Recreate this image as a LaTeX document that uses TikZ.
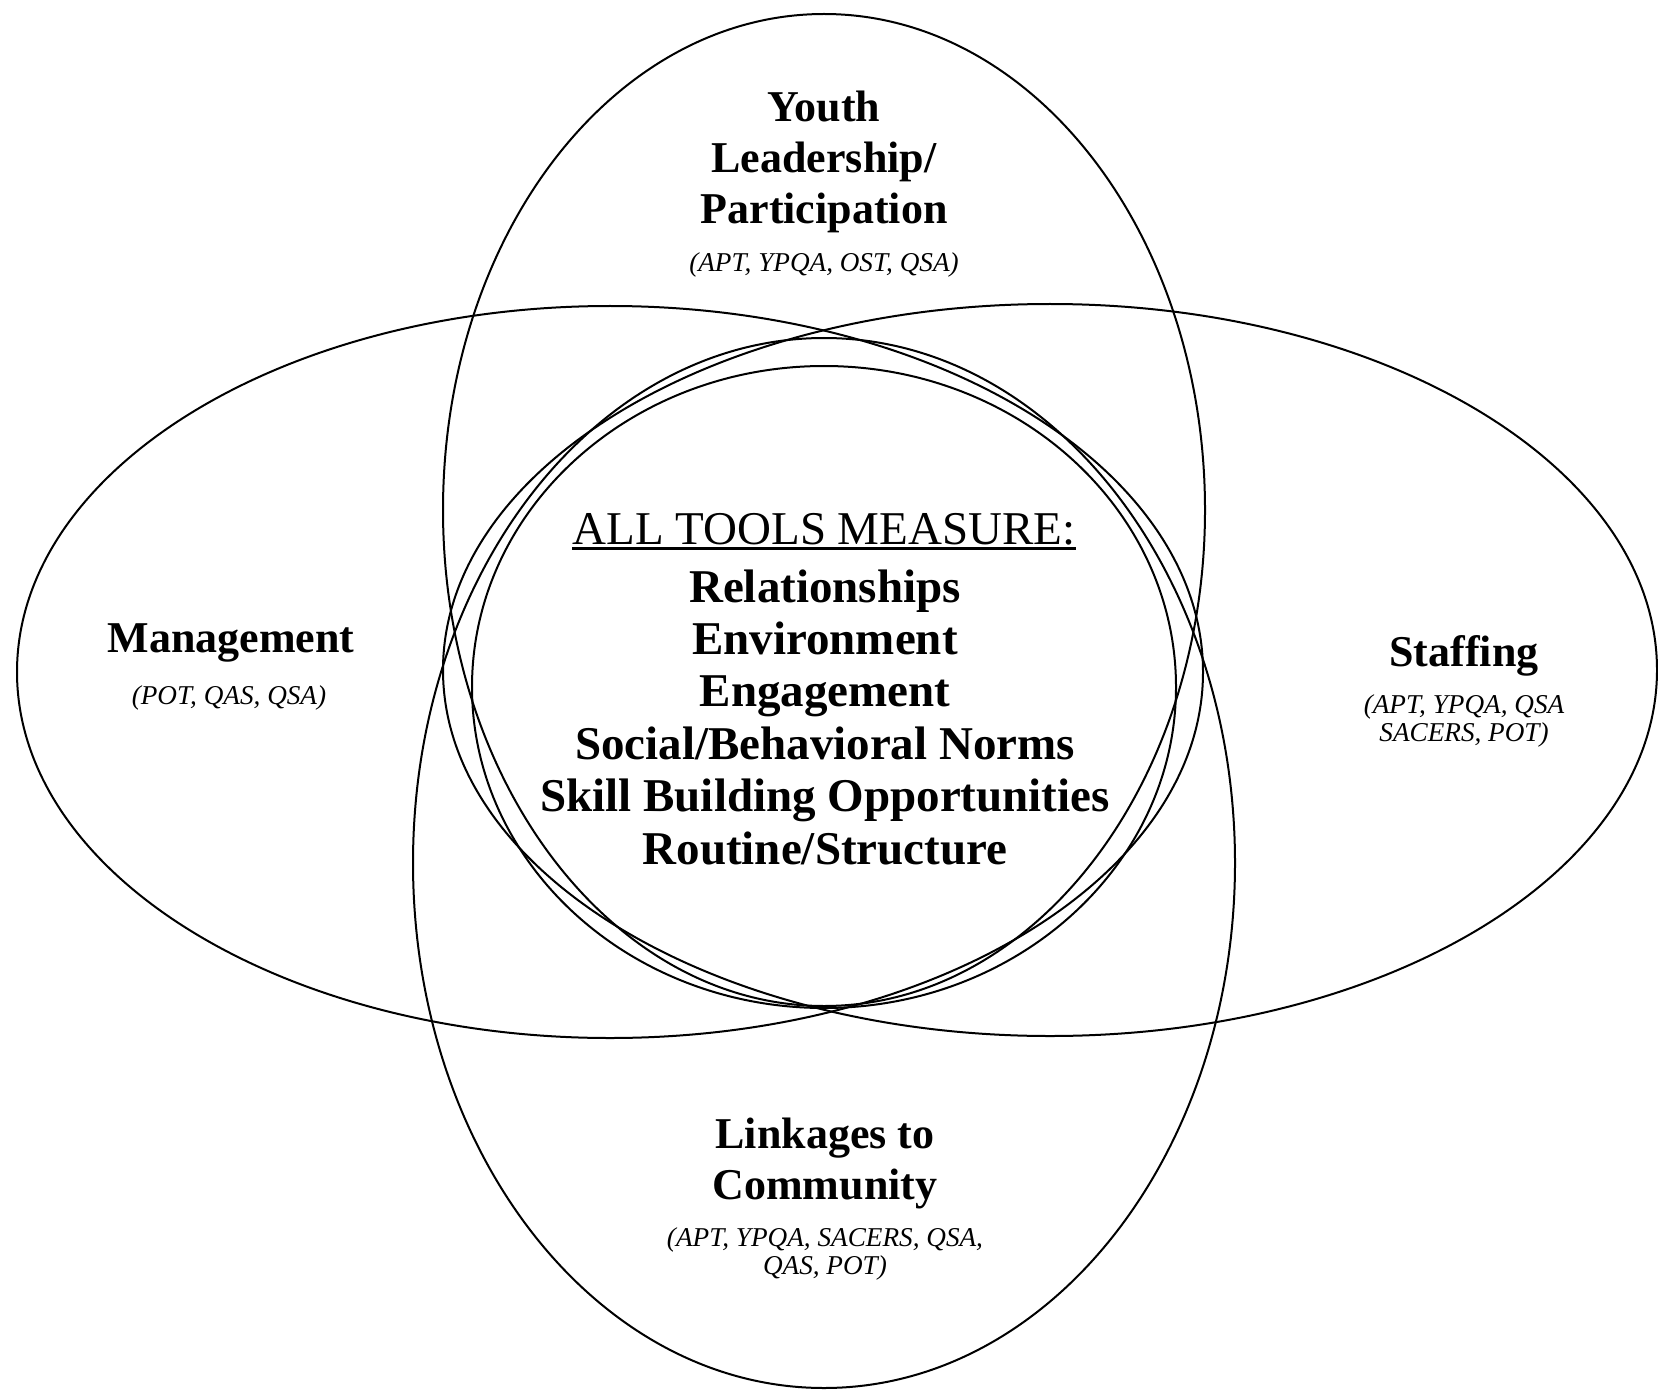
\documentclass[tikz,border=0pt]{standalone}
\usepackage{fontspec}
\setmainfont{Liberation Serif}
\begin{document}
\begin{tikzpicture}[x=0.5pt,y=-0.5pt,
  ring/.style={draw=black,line width=1pt},
  title/.style={font=\fontsize{22}{25.5}\selectfont\bfseries,align=center,inner sep=0pt},
  tools/.style={font=\fontsize{13.6}{14}\selectfont\itshape,align=center,inner sep=0pt},
  core/.style={font=\fontsize{23.5}{26.2}\selectfont\bfseries,align=center,inner sep=0pt},
  head/.style={font=\fontsize{23.5}{26}\selectfont,inner sep=0pt}]
\useasboundingbox (0,0) rectangle (1658,1390);
% ellipses
\draw[ring] (824,510) ellipse [x radius=190.5pt, y radius=248pt];
\draw[ring] (824,863) ellipse [x radius=205.5pt, y radius=262.5pt];
\draw[ring] (610,672) ellipse [x radius=296.5pt, y radius=183pt];
\draw[ring] (1050,670) ellipse [x radius=303.5pt, y radius=183pt];
\draw[ring] (824,687) ellipse [x radius=176pt, y radius=160.5pt];
% labels
\node[title] (youth) at (824,162) {Youth\\Leadership/\\Participation};
\node[tools] (youthT) at (824,265) {(APT, YPQA, OST, QSA)};
\node[title] (mgmt) at (231,643) {Management};
\node[tools] (mgmtT) at (229,698) {(POT, QAS, QSA)};
\node[title] (staff) at (1464,656) {Staffing};
\node[tools] (staffT) at (1464,721) {(APT, YPQA, QSA\\SACERS, POT)};
\node[title] (link) at (825,1163) {Linkages to\\Community};
\node[tools] (linkT) at (825,1254) {(APT, YPQA, SACERS, QSA,\\QAS, POT)};
\node[head] (all) at (824,529) {ALL TOOLS MEASURE:};
\draw[line width=1.3pt] ([yshift=-2pt]all.base west) -- ([yshift=-2pt]all.base east);
\node[core] (list) at (825,717) {Relationships\\Environment\\Engagement\\Social/Behavioral Norms\\Skill Building Opportunities\\Routine/Structure};
\end{tikzpicture}
\end{document}
